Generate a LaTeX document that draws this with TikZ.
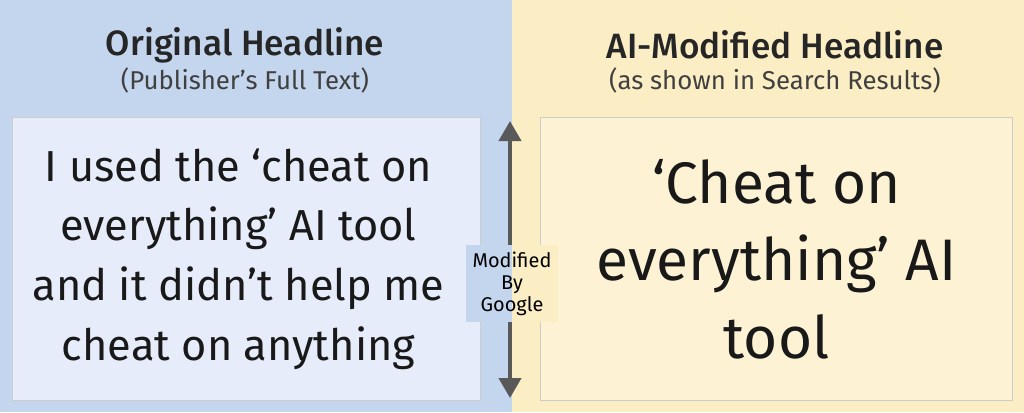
\documentclass[tikz,border=0pt]{standalone}
\usepackage{fontspec}
\setmainfont{Fira Sans}[UprightFont={* Medium}, BoldFont={* SemiBold}]
\newfontfamily\bookfont{Fira Sans}
\usetikzlibrary{arrows.meta, positioning, calc}
\definecolor{bluebg}{HTML}{C4D5EE}
\definecolor{yellowbg}{HTML}{FBEDC4}
\definecolor{bluebox}{HTML}{E6ECF9}
\definecolor{yellowbox}{HTML}{FDF3D4}
\begin{document}
\begin{tikzpicture}[
		x=0.03cm, y=-0.03cm,
		title/.style={font=\fontsize{30}{34}\selectfont, text=black!85},
		subtitle/.style={font=\bookfont\fontsize{22}{25}\selectfont, text=black!75},
		headbox/.style={rectangle, draw=white!60!gray, line width=0.8pt, anchor=north west, inner sep=0pt},
		headtext/.style={align=center, text=black!90},
		arrow/.style={{Triangle[length=0.6cm,width=0.66cm]}-{Triangle[length=0.6cm,width=0.66cm]}, line width=3.4pt, draw=black!65}
		]
		
		% Backgrounds
		\fill[bluebg] (0,0) rectangle (512,412);
		\fill[yellowbg] (512,0) rectangle (1024,412);
		\useasboundingbox (0,0) rectangle (1024,412);
		
		% Titles
		\node[title] (ltitle) at (245,45) {Original Headline};
		\node[subtitle] (lsub) at (245,80) {(Publisher’s Full Text)};
		\node[title] (rtitle) at (775,45) {AI-Modified Headline};
		\node[subtitle] (rsub) at (775,80) {(as shown in Search Results)};
		
		% Boxes
		\node[headbox, fill=bluebox, minimum width=14.04cm, minimum height=8.49cm] (lbox) at (12,117) {};
		\node[headbox, fill=yellowbox, minimum width=14.16cm, minimum height=8.49cm] (rbox) at (540,117) {};
		\node[headtext, font=\bookfont\fontsize{37}{51}\selectfont] (ltext) at ($(lbox.center)+(-8,0)$) {I used the ‘cheat on\\everything’ AI tool\\and it didn’t help me\\cheat on anything};
		\node[headtext, font=\bookfont\fontsize{50}{66}\selectfont] (rtext) at (rbox.center) {‘Cheat on\\everything’ AI\\tool};
		
		% Arrow
		\coordinate (atop) at (510,121);
		\coordinate (abot) at (510,398);
		\draw[arrow] (abot) -- (atop);
		\fill[bluebg] (466,245) rectangle (512,322);
		\fill[yellowbg] (512,245) rectangle (558,322);
		\node[align=center, font=\bookfont\fontsize{17}{19}\selectfont, inner sep=2pt] (mod) at (512,284) {Modified\\By\\Google};
		
	\end{tikzpicture}
\end{document}
